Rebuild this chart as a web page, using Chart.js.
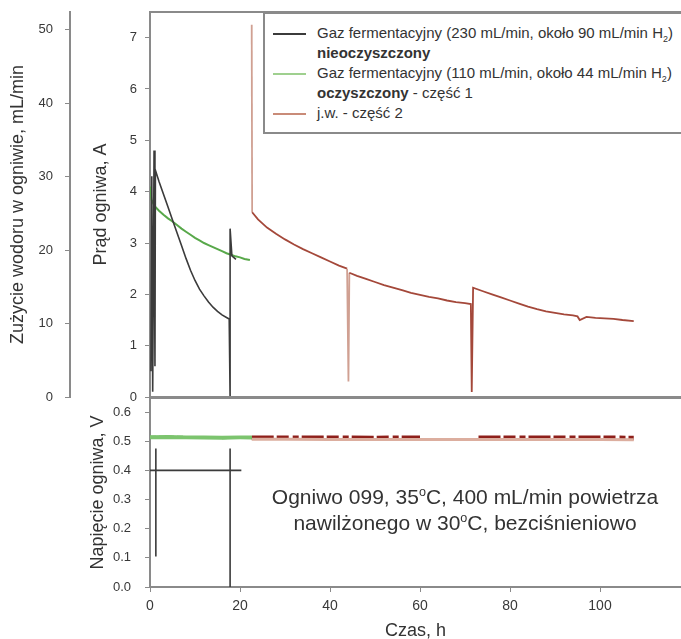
<!DOCTYPE html>
<html>
<head>
<meta charset="utf-8">
<script src="https://cdn.jsdelivr.net/npm/chart.js@4"></script>
<style>
  html, body { margin: 0; padding: 0; background: #fff; overflow: hidden; }
  #wykres { position: relative; width: 681px; height: 639px; font-family: "Liberation Sans", Arial, sans-serif; color: #333; }
  canvas { position: absolute; left: 0; }
  #gora { top: 0; }
  #dol { top: 380px; }
  #legenda { position: absolute; left: 263px; top: 12px; width: 440px; height: 118px; border: 2px solid #8a8a8a; background: #fff; font-size: 15px; }
  .wiersz { position: absolute; left: 52px; white-space: nowrap; line-height: 20px; }
  .probka { position: absolute; left: 8px; width: 33px; height: 0; border-top: 2px solid; }
  #opis { position: absolute; left: 240px; width: 450px; top: 484px; text-align: center; font-size: 21px; line-height: 26px; color: #333; }
  sup { font-size: 60%; vertical-align: 0.6em; line-height: 0; }
  sub { font-size: 60%; line-height: 0; }
</style>
</head>
<body>
<div id="wykres">
  <canvas id="gora" width="681" height="410"></canvas>
  <canvas id="dol" width="681" height="262"></canvas>
  <div id="legenda">
    <span class="probka" style="top:19px;border-color:#3b3b3b"></span>
    <div class="wiersz" style="top:9px">Gaz fermentacyjny (230 mL/min, około 90 mL/min H<sub>2</sub>)</div>
    <div class="wiersz" style="top:29px"><b>nieoczyszczony</b></div>
    <span class="probka" style="top:59px;border-color:#9fd08f"></span>
    <div class="wiersz" style="top:49px">Gaz fermentacyjny (110 mL/min, około 44 mL/min H<sub>2</sub>)</div>
    <div class="wiersz" style="top:69px"><b>oczyszczony</b> - część 1</div>
    <span class="probka" style="top:99px;border-color:#c98b78"></span>
    <div class="wiersz" style="top:89px">j.w. - część 2</div>
  </div>
  <div id="opis">Ogniwo 099, 35<sup>o</sup>C, 400 mL/min powietrza<br>nawilżonego w 30<sup>o</sup>C, bezciśnieniowo</div>
</div>
<script>
// prad ogniwa, gaz nieoczyszczony (czas h, prad A)
const czasCzarny = [0.2, 0.4, 0.6, 0.9, 1.1, 1.2, 2, 3, 4, 5, 6, 7, 8, 9, 10, 11, 12, 13, 14, 15, 16, 17, 17.6, 17.8, 17.8, 18.2, 19.1];
const pradCzarny = [0.5, 4.3, 0.1, 4.8, 0.6, 4.42, 4.2, 3.95, 3.7, 3.45, 3.2, 2.95, 2.7, 2.47, 2.27, 2.1, 1.97, 1.85, 1.75, 1.67, 1.6, 1.55, 1.52, 0, 3.28, 2.75, 2.68];

// prad ogniwa, gaz oczyszczony - czesc 1
const czasZielony = [0, 0.3, 1, 2, 3, 4, 5, 6, 7, 8, 9, 10, 11, 12, 13, 14, 15, 16, 17, 18, 19, 20, 21, 22.2];
const pradZielony = [4.1, 3.85, 3.72, 3.63, 3.55, 3.48, 3.42, 3.35, 3.28, 3.22, 3.16, 3.1, 3.05, 3.0, 2.96, 2.92, 2.88, 2.84, 2.8, 2.77, 2.74, 2.72, 2.69, 2.67];

// prad ogniwa, czesc 2
const czasCzerwony = [22.6, 22.7, 24, 26, 28, 30, 32, 34, 36, 38, 40, 42, 43.8, 44.1, 44.3, 46, 48, 50, 52, 54, 56, 58, 60, 62, 64, 66, 68, 70, 71.3, 71.5, 71.8, 74, 76, 78, 80, 82, 84, 86, 88, 90, 92, 94, 95, 95.5, 97, 99, 101, 103, 105, 107.5];
const pradCzerwony = [7.25, 3.6, 3.46, 3.3, 3.18, 3.07, 2.97, 2.88, 2.8, 2.72, 2.64, 2.56, 2.5, 0.3, 2.42, 2.36, 2.3, 2.24, 2.18, 2.13, 2.08, 2.03, 1.99, 1.95, 1.92, 1.88, 1.85, 1.83, 1.81, 0.1, 2.13, 2.06, 2.0, 1.94, 1.88, 1.82, 1.76, 1.71, 1.67, 1.64, 1.61, 1.59, 1.57, 1.5, 1.56, 1.54, 1.53, 1.52, 1.5, 1.48];

// napiecie ogniwa (V)
const czasNapCzarny = [0, 1.3, 1.3, 1.3, 1.3, 17.8, 17.8, 17.8, 17.8, 20.3];
const napCzarny = [0.4, 0.4, 0.475, 0.105, 0.4, 0.4, 0.475, 0, 0.4, 0.4];
const czasNapZielony = [0, 4, 8, 12, 16, 20, 22.6];
const napZielony = [0.513, 0.514, 0.513, 0.513, 0.512, 0.513, 0.513];
const czasNapCzerwony = [22.6, 30, 40, 50, 56, 60, 63, 66, 70, 73, 80, 90, 100, 107.5];
const napCzerwony = [0.507, 0.507, 0.506, 0.506, 0.506, 0.506, 0.506, 0.506, 0.506, 0.506, 0.506, 0.506, 0.506, 0.505];
const napCzerwonyCiemny = [0.512, 0.512, 0.512, 0.511, 0.512, 0.512, null, null, null, 0.512, 0.512, 0.512, 0.512, 0.511];

const ticksX = [0, 20, 40, 60, 80, 100];

Chart.defaults.font.family = '"Liberation Sans", Arial, sans-serif';
Chart.defaults.color = '#383838';

function pary(xs, ys) {
    return xs.map((x, i) => ({x: x, y: ys[i]}));
}

// ramka wokol obszaru wykresu
const ramka = {
    id: 'ramka',
    afterDraw(chart, args, opts) {
        const {ctx, chartArea} = chart;
        ctx.save();
        ctx.strokeStyle = '#8a8a8a';
        if (opts.top) {
            ctx.lineWidth = 2;
            ctx.beginPath();
            ctx.moveTo(chartArea.left, chartArea.top);
            ctx.lineTo(chartArea.right, chartArea.top);
            ctx.stroke();
        }
        if (opts.bottom) {
            ctx.lineWidth = 3;
            ctx.beginPath();
            ctx.moveTo(chartArea.left, chartArea.bottom + 0.5);
            ctx.lineTo(chartArea.right, chartArea.bottom + 0.5);
            ctx.stroke();
        }
        ctx.restore();
    }
};

// bez dodatkowego marginesu na etykiety osi pionowych
function bezMarginesu(s) {
    s.paddingTop = 0;
    s.paddingBottom = 0;
}

const linia = {pointRadius: 0, tension: 0, fill: false};

//Wykres 1 Prad ogniwa
new Chart(document.getElementById('gora'), {
    type: 'line',
    data: {
        datasets: [
            {...linia, data: pary(czasCzarny, pradCzarny), borderColor: '#3b3b3b', borderWidth: 1.6},
            {...linia, data: pary(czasZielony, pradZielony), borderColor: '#58a84a', borderWidth: 2},
            {...linia, data: pary(czasCzerwony, pradCzerwony), borderColor: '#a4483a', borderWidth: 1.8,
                segment: {borderColor: c => Math.abs(c.p1.parsed.y - c.p0.parsed.y) > 1 && c.p0.parsed.x < 50 ? '#d0a092' : undefined}}
        ]
    },
    options: {
        responsive: false,
        animation: false,
        devicePixelRatio: 1,
        layout: {padding: {top: 12, bottom: 13, left: 0, right: 0}},
        plugins: {legend: {display: false}, tooltip: {enabled: false}, ramka: {top: true, bottom: true}},
        scales: {
            x: {type: 'linear', min: 0, max: 118, display: false},
            y: {
                type: 'linear', position: 'left', weight: 0, min: 0, max: 7.5,
                ticks: {stepSize: 1, includeBounds: false, padding: 8, font: {size: 13}},
                grid: {drawOnChartArea: false, tickLength: 5, color: '#8a8a8a'},
                border: {color: '#8a8a8a', width: 2},
                title: {display: true, text: 'Prąd ogniwa, A', font: {size: 18}, color: '#333', padding: {top: 20, bottom: 0}},
                afterFit(s) { s.width = 80; bezMarginesu(s); }
            },
            y2: {
                type: 'linear', position: 'left', weight: 1, min: 0, max: 52.4,
                ticks: {stepSize: 10, includeBounds: false, padding: 12, font: {size: 13}},
                grid: {drawOnChartArea: false, tickLength: 5, color: '#8a8a8a'},
                border: {color: '#8a8a8a', width: 2},
                title: {display: true, text: 'Zużycie wodoru w ogniwie, mL/min', font: {size: 18}, color: '#333', padding: {top: 7, bottom: 0}},
                afterFit(s) { s.width = 70; bezMarginesu(s); }
            }
        }
    },
    plugins: [ramka]
});

//Wykres 2 Napiecie ogniwa
new Chart(document.getElementById('dol'), {
    type: 'line',
    data: {
        datasets: [
            {...linia, data: pary(czasNapCzarny, napCzarny), borderColor: '#3b3b3b', borderWidth: 1.6},
            {...linia, data: pary(czasNapZielony, napZielony), borderColor: '#7cc46e', borderWidth: 4},
            {...linia, data: pary(czasNapZielony, napZielony), borderColor: '#3f9a3c', borderWidth: 3, borderDash: [6, 3]},
            {...linia, data: pary(czasNapCzerwony, napCzerwony), borderColor: '#dcae9f', borderWidth: 3},
            {...linia, data: pary(czasNapCzerwony, napCzerwonyCiemny), borderColor: '#8e1f1a', borderWidth: 4.5, borderDash: [22, 3, 12, 4, 6, 3], spanGaps: false}
        ]
    },
    options: {
        responsive: false,
        animation: false,
        devicePixelRatio: 1,
        layout: {padding: {top: 18, bottom: 0, left: 0, right: 0}},
        plugins: {legend: {display: false}, tooltip: {enabled: false}, ramka: {top: false, bottom: false}},
        scales: {
            x: {
                type: 'linear', min: 0, max: 118,
                afterBuildTicks(s) { s.ticks = ticksX.map(v => ({value: v})); },
                ticks: {padding: 6, font: {size: 14}},
                grid: {drawOnChartArea: false, tickLength: 5, color: '#8a8a8a'},
                border: {color: '#8a8a8a', width: 2},
                title: {display: true, text: 'Czas, h', font: {size: 18}, color: '#333', padding: {top: 0, bottom: 0}},
                afterFit(s) { s.height = 55; }
            },
            y: {
                type: 'linear', position: 'left', min: 0, max: 0.648,
                ticks: {stepSize: 0.1, includeBounds: false, padding: 14, font: {size: 13}, callback: v => v.toFixed(1)},
                grid: {drawOnChartArea: false, tickLength: 5, color: '#8a8a8a'},
                border: {color: '#8a8a8a', width: 2},
                title: {display: true, text: 'Napięcie ogniwa, V', font: {size: 18}, color: '#333', padding: {top: 87, bottom: 0}},
                afterFit(s) { s.width = 150; bezMarginesu(s); }
            }
        }
    },
    plugins: [ramka]
});
</script>
</body>
</html>
